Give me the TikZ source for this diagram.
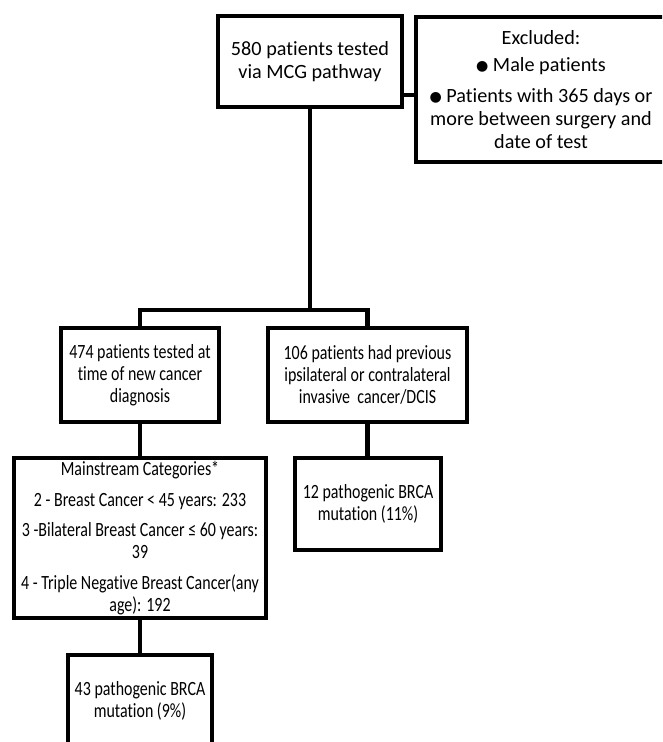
\documentclass[tikz,border=0pt]{standalone}
\usepackage{fontspec}
\setmainfont{Carlito}[Ligatures=NoCommon]
\newfontfamily\condfont{Carlito}[FakeStretch=0.79, Ligatures=NoCommon]
\newfontfamily\symfont{DejaVu Sans}
\newcommand{\blt}{\raisebox{0.8pt}{\symfont\fontsize{8}{8}\selectfont ●}}
\usetikzlibrary{positioning,calc}

\begin{document}
\begin{tikzpicture}[
                    x=0.02cm, y=-0.02cm,
                    box/.style={draw, rectangle, line width=2.6pt, align=center, inner sep=1pt, font=\fontsize{11.5}{13}\selectfont},
                    condbox/.style={box, font=\condfont\fontsize{11.5}{12.5}\selectfont},
                    txt/.style={align=center, inner sep=0pt, font=\condfont\fontsize{11.5}{12.5}\selectfont},
                    link/.style={line width=2.6pt}
                ]
                    \useasboundingbox (0,0) rectangle (662,742);
                    \fill[white] (0,0) rectangle (662,742);
                    \clip (0,0) rectangle (662,742);

                    % top row
                    \node[box, minimum width=3.68cm, minimum height=1.82cm] (tested) at (310,61.5) {580 patients tested\\via MCG pathway};
                    \node[box, minimum width=5cm, minimum height=2.9cm] (excl) at (541,89.5) {Excluded:\\[2.3pt]\blt{} Male patients\\[4.5pt]\blt{} Patients with 365 days or\\more between surgery and\\date of test};

                    % second row
                    \node[condbox, minimum width=3.16cm, minimum height=1.88cm] (new) at (140,375) {474 patients tested at\\time of new cancer\\diagnosis};
                    \node[condbox, minimum width=3.98cm, minimum height=1.88cm] (prior) at (367.5,375) {106 patients had previous\\ipsilateral or contralateral\\invasive~ cancer/DCIS};

                    % third row
                    \node[box, minimum width=5.04cm, minimum height=3.2cm] (main) at (140,538) {};
                    \node[txt] (maintext) at (main) {Mainstream Categories*\\[5pt]2 - Breast Cancer < 45 years: 233\\[5pt]3 -Bilateral Breast Cancer ≤ 60 years:\\39\\[5pt]4 - Triple Negative Breast Cancer(any\\age): 192};
                    \node[condbox, minimum width=2.92cm, minimum height=1.84cm] (brca12) at (368,504) {12 pathogenic BRCA\\mutation (11\%)};

                    % last row
                    \node[condbox, minimum width=2.88cm, minimum height=1.84cm] (brca43) at (140,701) {43 pathogenic BRCA\\mutation (9\%)};

                    \coordinate (split) at (310,310);

                    \draw[link] ([yshift=-0.67cm]tested.east) -- ([yshift=-0.67cm]tested.east -| excl.west);
                    \draw[link] (tested.south) -- (split);
                    \draw[link] (new.north) |- (split) -| (prior.north);
                    \draw[link] (new) -- (main);
                    \draw[link] (prior.south) -- (prior.south |- brca12.north);
                    \draw[link] (main) -- (brca43);
                \end{tikzpicture}
\end{document}
